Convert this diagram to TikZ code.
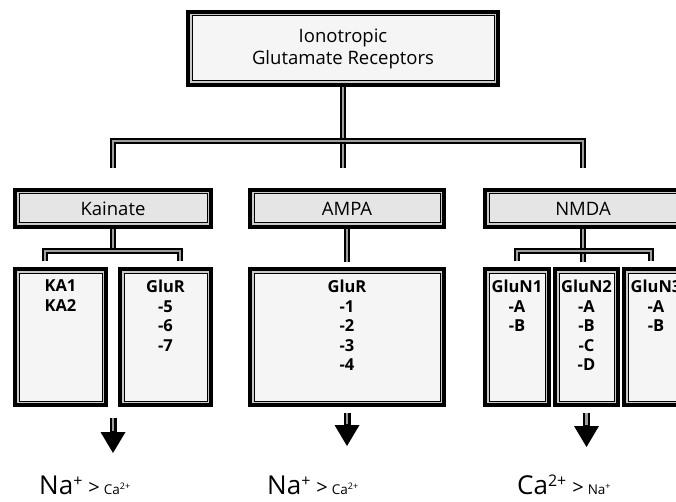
\documentclass[tikz,border=0pt]{standalone}
\usepackage{fontspec}
\setmainfont{Open Sans}
\usepackage{tikz}
\usetikzlibrary{arrows.meta}

\definecolor{headfill}{gray}{0.90}
\definecolor{boxfill}{gray}{0.96}
\definecolor{midgray}{gray}{0.62}

\newcommand{\subtypes}[2]{\parbox[c][128pt][t]{#1}{\centering\vspace*{7pt}#2}}
\newcommand{\bigion}[2]{{\fontsize{26}{26}\selectfont #1\raisebox{8pt}{\fontsize{16}{16}\selectfont #2}}}
\newcommand{\smallion}[2]{{\fontsize{13.5}{14}\selectfont #1\raisebox{4.5pt}{\fontsize{9}{9}\selectfont #2}}}
\newcommand{\gtsign}{\hspace{6pt}{\fontsize{20}{20}\selectfont >}\hspace{4pt}}

\tikzset{
    frame/.style={draw=black, line width=1pt,
        preaction={draw=black, line width=12pt},
        preaction={draw=midgray!55!white, line width=4pt}},
    topbox/.style={frame, fill=boxfill, minimum width=302pt, minimum height=65pt,
        align=center, font=\fontsize{18.5}{22}\selectfont},
    headbox/.style={frame, fill=headfill, minimum width=188pt, minimum height=29pt,
        inner sep=0pt, font=\fontsize{18.5}{20}\selectfont},
    lowbox/.style={frame, fill=boxfill, inner sep=0pt,
        font=\bfseries\fontsize{16.5}{19.5}\selectfont},
    conn/.style={draw=black, line width=1.4pt, double=midgray, double distance=2.6pt},
    ionarrow/.style={-{Triangle[width=25pt, length=21pt, line width=0pt]}, line width=7pt},
    stemcore/.style={draw=midgray, line width=2.4pt},
    ion/.style={anchor=base west, inner sep=0pt}
}

\begin{document}
\begin{tikzpicture}[x=1pt, y=-1pt]
    \useasboundingbox (0,0) rectangle (676,502);
    \clip (0,0) rectangle (676,502);

    \node[topbox] (top) at (343,48.5) {Ionotropic\\Glutamate Receptors};

    \node[headbox] (kainate) at (113,208.5) {Kainate};
    \node[headbox, minimum width=186pt] (ampa) at (347,208.5) {AMPA};
    \node[headbox] (nmda) at (583,208.5) {NMDA};

    \node[lowbox] (ka1) at (60.5,337) {\subtypes{83pt}{KA1\\KA2}};
    \node[lowbox] (glur) at (165.5,337) {\subtypes{83pt}{GluR\\-5\\-6\\-7}};
    \node[lowbox] (ampalow) at (347,337) {\subtypes{186pt}{GluR\\-1\\-2\\-3\\-4}};
    \node[lowbox] (glun1) at (517,337) {\subtypes{56pt}{GluN1\\-A\\-B}};
    \node[lowbox] (glun2) at (586.5,337) {\subtypes{55pt}{GluN2\\-A\\-B\\-C\\-D}};
    \node[lowbox] (glun3) at (656,337) {\subtypes{56pt}{GluN3\\-A\\-B}};

    \coordinate (split) at (343,141);
    \coordinate (kasplit) at (113,251);
    \coordinate (nmdasplit) at (583,251);

    \draw[conn, shorten <=6pt, shorten >=25pt] (top.south) -- (top.south |- ampa.north);
    \draw[conn, shorten >=25pt] (split) -| (kainate.north);
    \draw[conn, shorten >=25pt] (split) -| (nmda.north);

    \draw[conn, shorten <=6pt] (kainate.south) -- (kasplit);
    \draw[conn, shorten >=12pt] (kasplit) -| ([xshift=-15.5pt]ka1.north);
    \draw[conn, shorten >=12pt] (kasplit) -| ([xshift=14.5pt]glur.north);

    \draw[conn, shorten <=6pt, shorten >=11pt] (ampa.south) -- (ampalow.north);

    \draw[conn, shorten <=6pt, shorten >=11pt] (nmda.south) -- (nmda.south |- glun2.north);
    \draw[conn, shorten >=12pt] (nmdasplit) -| (glun1.north);
    \draw[conn, shorten >=12pt] (nmdasplit) -| ([xshift=-5pt]glun3.north);

    \node[ion] (kaion) at (39,494) {\bigion{Na}{+}\gtsign\smallion{Ca}{2+}};
    \node[ion] (ampaion) at (267,494) {\bigion{Na}{+}\gtsign\smallion{Ca}{2+}};
    \node[ion] (nmdaion) at (517,494) {\bigion{Ca}{2+}\gtsign\smallion{Na}{+}};

    \coordinate (katip) at (113,453);
    \coordinate (ampatip) at (347,446);
    \coordinate (nmdatip) at (586.5,447);

    \draw[ionarrow, shorten <=16pt] (kasplit |- ka1.south) -- (katip);
    \draw[stemcore, shorten <=16pt, shorten >=22pt] (kasplit |- ka1.south) -- (katip);
    \draw[ionarrow, shorten <=11pt] (ampalow.south) -- (ampatip);
    \draw[stemcore, shorten <=11pt, shorten >=22pt] (ampalow.south) -- (ampatip);
    \draw[ionarrow, shorten <=11pt] (glun2.south) -- (nmdatip);
    \draw[stemcore, shorten <=11pt, shorten >=22pt] (glun2.south) -- (nmdatip);
\end{tikzpicture}
\end{document}
